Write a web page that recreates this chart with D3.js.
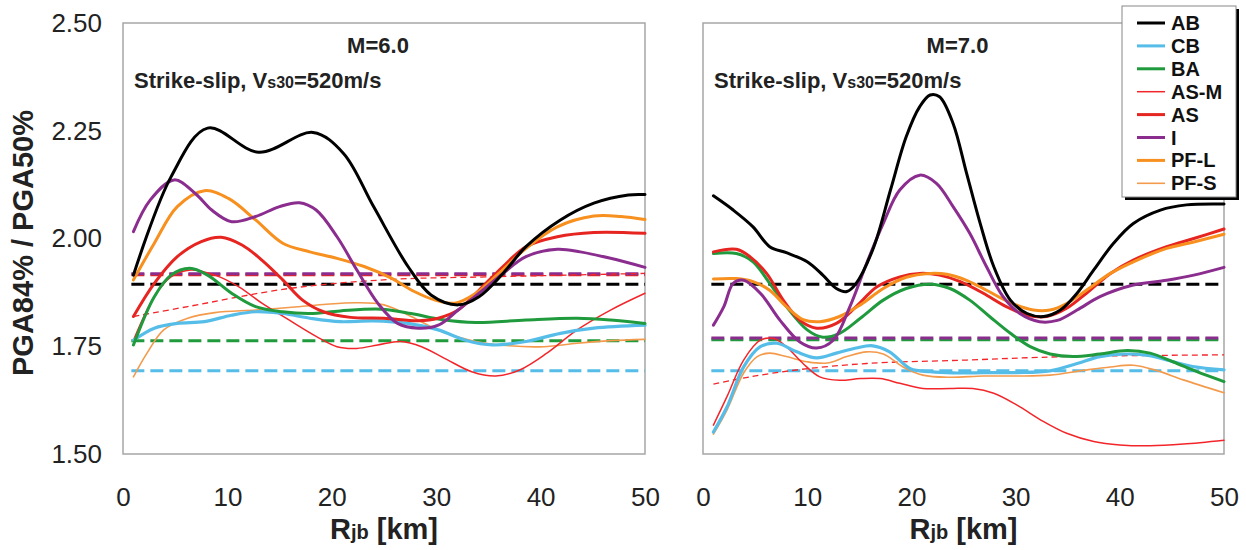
<!DOCTYPE html>
<html><head><meta charset="utf-8">
<script src="https://cdn.jsdelivr.net/npm/d3@7/dist/d3.min.js"></script>
<style>body{margin:0;background:#fff;}svg{display:block;font-family:"Liberation Sans",Arial,sans-serif;}</style>
</head><body><svg id="c" width="1246" height="550"></svg>
<script>
// ---------- data ----------
const xTicks = [0, 10, 20, 30, 40, 50];
const yTicks = [1.50, 1.75, 2.00, 2.25, 2.50];
const seriesNames = ["AB", "CB", "BA", "AS-M", "AS", "I", "PF-L", "PF-S"];
const panelTitles = ["M=6.0", "M=7.0"];

// M = 6.0 (solid curves: [Rjb, ratio])
const m6_AB  = [[1,1.915],[4.6,2.143],[8.1,2.256],[13,2.200],[18.2,2.246],[21.1,2.198],[24,2.074],[27.3,1.935],[29.5,1.869],[32.1,1.846],[34.1,1.865],[36.4,1.919],[38.6,1.981],[41.9,2.043],[45.1,2.082],[48.4,2.101],[50,2.102]];
const m6_CB  = [[1,1.764],[3,1.792],[5.2,1.803],[7.8,1.807],[10.4,1.822],[12.7,1.830],[15.3,1.826],[17.9,1.815],[20.8,1.807],[24,1.809],[27.3,1.803],[30.2,1.788],[32.8,1.764],[35.4,1.753],[38.6,1.761],[41.9,1.780],[45.1,1.792],[50,1.799]];
const m6_BA  = [[1,1.753],[3,1.865],[4.6,1.915],[6.4,1.931],[8.1,1.915],[10.4,1.873],[12.7,1.842],[15.3,1.830],[17.9,1.826],[20.8,1.832],[24.7,1.836],[27.6,1.826],[30.5,1.812],[33.8,1.805],[38.6,1.811],[43.5,1.815],[46.7,1.811],[50,1.803]];
const m6_ASM = [[1,1.764],[3,1.865],[4.6,1.911],[6.5,1.927],[8.8,1.915],[11.1,1.888],[13.3,1.850],[15.9,1.811],[18.5,1.773],[20.5,1.749],[22.4,1.745],[24.4,1.753],[26.6,1.761],[28.6,1.749],[30.8,1.722],[33.4,1.691],[35.7,1.681],[38,1.695],[40.6,1.734],[43.5,1.788],[46.7,1.834],[50,1.873]];
const m6_AS  = [[1,1.819],[3,1.896],[5.2,1.958],[7.5,1.993],[9.4,2.003],[11.4,1.985],[13.3,1.950],[15.3,1.904],[17.2,1.857],[19.2,1.830],[21.8,1.817],[25,1.815],[28.3,1.809],[30.2,1.815],[32.1,1.834],[34.1,1.880],[36.4,1.935],[38.6,1.981],[41.6,2.004],[45.1,2.014],[50,2.012]];
const m6_I   = [[1,2.016],[2.6,2.089],[4.9,2.136],[6.9,2.105],[8.5,2.066],[10.4,2.039],[12.7,2.051],[15,2.074],[16.9,2.083],[18.5,2.066],[20.5,2.004],[22.4,1.927],[24.4,1.850],[26.3,1.803],[28.3,1.792],[30.2,1.799],[32.1,1.834],[34.1,1.873],[36.4,1.919],[38.6,1.958],[41.6,1.975],[43.8,1.969],[46.7,1.954],[50,1.933]];
const m6_PFL = [[1,1.904],[3,1.989],[5.2,2.074],[7.8,2.111],[10.1,2.093],[12.7,2.043],[15.3,1.989],[17.9,1.969],[20.5,1.954],[23.1,1.935],[25.7,1.908],[27.9,1.877],[29.9,1.857],[31.8,1.850],[33.8,1.873],[36,1.919],[38.6,1.977],[41.6,2.027],[45.1,2.052],[47.7,2.051],[50,2.044]];
const m6_PFS = [[1,1.679],[2.3,1.734],[3.9,1.788],[6.2,1.815],[8.8,1.828],[12.7,1.834],[15.9,1.840],[19.2,1.847],[22.4,1.851],[25,1.846],[27.6,1.819],[30.5,1.784],[33.8,1.761],[37,1.751],[40.3,1.749],[43.5,1.757],[46.7,1.763],[50,1.766]];
// M = 6.0 dashed (model sigma) levels
const m6_dashLevels = {"AB":1.894, "CB":1.693, "BA":1.763, "AS":1.916, "I":1.918};
const m6_ASM_dash = [[1,1.819],[6.2,1.842],[15.9,1.884],[25.7,1.905],[35,1.911],[50,1.919]];

// M = 7.0
const m7_AB  = [[1,2.099],[2.9,2.066],[4.8,2.027],[6.4,1.981],[8,1.967],[10,1.946],[11.5,1.915],[12.8,1.884],[13.8,1.877],[14.7,1.896],[16.4,1.981],[18,2.113],[19.5,2.236],[20.8,2.306],[21.8,2.333],[22.7,2.329],[24,2.267],[25.3,2.151],[26.6,2.035],[27.9,1.935],[29.5,1.857],[31.1,1.826],[32.7,1.819],[34.3,1.834],[35.9,1.873],[37.5,1.927],[39.4,1.989],[41.3,2.035],[43.9,2.066],[46.4,2.078],[50,2.080]];
const m7_CB  = [[1,1.551],[2.3,1.609],[3.9,1.702],[5.5,1.749],[7.1,1.757],[9,1.737],[10.9,1.723],[12.8,1.734],[14.7,1.746],[16.3,1.751],[17.9,1.737],[19.9,1.698],[21.8,1.691],[24,1.688],[26.9,1.689],[30.1,1.689],[33.3,1.693],[35.9,1.710],[38.1,1.726],[40.7,1.732],[42.9,1.728],[44.5,1.718],[47,1.703],[50,1.695]];
const m7_BA  = [[1,1.965],[3.2,1.965],[4.8,1.946],[6.4,1.896],[8,1.842],[10,1.788],[11.5,1.771],[13.1,1.780],[15.1,1.815],[17.3,1.857],[19.5,1.884],[21.8,1.894],[23.7,1.884],[25.6,1.857],[27.5,1.819],[29.5,1.780],[31.4,1.749],[33.3,1.732],[35.5,1.726],[38.1,1.732],[40.7,1.740],[42.9,1.734],[45.1,1.714],[47.4,1.691],[50,1.668]];
const m7_ASM = [[1,1.567],[2.3,1.633],[3.9,1.718],[5.5,1.764],[6.8,1.768],[8,1.749],[9.6,1.710],[11.2,1.679],[13.1,1.671],[15.1,1.675],[17,1.675],[18.9,1.664],[21.1,1.652],[23.7,1.652],[25.9,1.652],[27.9,1.641],[30.1,1.614],[32.7,1.575],[34.9,1.548],[37.5,1.529],[40,1.521],[42.9,1.519],[46.1,1.523],[50,1.532]];
const m7_AS  = [[1,1.969],[3.2,1.975],[4.5,1.958],[6.1,1.919],[7.7,1.857],[9.3,1.810],[10.9,1.792],[12.8,1.803],[14.7,1.842],[16.7,1.888],[18.9,1.911],[20.8,1.919],[22.7,1.915],[24.7,1.900],[26.9,1.873],[29.1,1.842],[31.1,1.822],[33,1.819],[34.9,1.838],[36.8,1.873],[39.1,1.919],[41.3,1.950],[44.5,1.981],[47.1,2.000],[50,2.022]];
const m7_I   = [[1,1.799],[2,1.842],[2.9,1.896],[3.9,1.903],[5.5,1.873],[7.4,1.810],[9.3,1.760],[10.9,1.746],[12.5,1.764],[14.1,1.842],[15.7,1.942],[17.3,2.035],[18.9,2.113],[20.8,2.147],[22.4,2.128],[24,2.074],[25.6,2.012],[27.2,1.935],[28.8,1.865],[30.4,1.826],[32.3,1.807],[34,1.810],[35.9,1.834],[38.1,1.865],[41.3,1.892],[44.5,1.903],[47.1,1.915],[50,1.933]];
const m7_PFL = [[1,1.906],[3.2,1.907],[4.8,1.900],[6.4,1.880],[8,1.842],[9.6,1.812],[11.2,1.807],[13.1,1.819],[15.1,1.846],[17.3,1.884],[19.5,1.910],[21.8,1.919],[23.4,1.917],[25.3,1.903],[27.2,1.880],[29.5,1.851],[31.7,1.834],[33.3,1.834],[34.9,1.849],[36.8,1.880],[39.1,1.919],[41.3,1.946],[44.5,1.977],[47.1,1.992],[50,2.010]];
const m7_PFS = [[1,1.546],[2.3,1.602],[3.9,1.688],[5.2,1.726],[6.4,1.734],[8,1.726],[10,1.714],[11.9,1.711],[13.8,1.726],[15.7,1.737],[17.3,1.732],[19.2,1.702],[21.1,1.683],[23.7,1.678],[26.9,1.681],[30.1,1.681],[33.3,1.683],[36.5,1.694],[39.1,1.702],[41.3,1.706],[43.5,1.694],[46.1,1.672],[50,1.642]];
const m7_dashLevels = {"AB":1.894, "CB":1.693, "BA":1.765, "I":1.769};
const m7_ASM_dash = [[1,1.662],[4.5,1.679],[9.3,1.696],[15.7,1.710],[25.3,1.718],[34.9,1.726],[50,1.730]];

// ---------- styles ----------
const colors = {"AB":"#000000","CB":"#55bde8","BA":"#1f9a3c","AS-M":"#f2262a","AS":"#e62420","I":"#8b2d8e","PF-L":"#f7901e","PF-S":"#f39a4c"};
const widths = {"AB":3,"CB":3.2,"BA":3,"AS-M":1.5,"AS":3,"I":3,"PF-L":3,"PF-S":1.6};

const panels = [
  {title: panelTitles[0], x0: 123, x1: 645, showY: true,
   solid: {"AB":m6_AB,"CB":m6_CB,"BA":m6_BA,"AS-M":m6_ASM,"AS":m6_AS,"I":m6_I,"PF-L":m6_PFL,"PF-S":m6_PFS},
   dash: m6_dashLevels, asmDash: m6_ASM_dash},
  {title: panelTitles[1], x0: 703, x1: 1224, showY: false,
   solid: {"AB":m7_AB,"CB":m7_CB,"BA":m7_BA,"AS-M":m7_ASM,"AS":m7_AS,"I":m7_I,"PF-L":m7_PFL,"PF-S":m7_PFS},
   dash: m7_dashLevels, asmDash: m7_ASM_dash}
];
const yTop = 23, yBot = 454;
const svg = d3.select("#c");
const drawOrder = ["PF-S","AS-M","CB","BA","AS","PF-L","I","AB"];
const FF = '"Liberation Sans",Arial,sans-serif';

panels.forEach(p => {
  const x = d3.scaleLinear().domain([0,50]).range([p.x0, p.x1]);
  const y = d3.scaleLinear().domain([1.5,2.5]).range([yBot, yTop]);
  const g = svg.append("g");
  const line = d3.line().x(d => x(d[0])).y(d => y(d[1])).curve(d3.curveCatmullRom.alpha(0.5));

  g.append("rect").attr("x", p.x0).attr("y", yTop).attr("width", p.x1 - p.x0).attr("height", yBot - yTop)
    .attr("fill", "none").attr("stroke", "#a6a6a6").attr("stroke-width", 1.5);

  // dashed reference levels
  const dashOrder = ["CB","BA","AB","AS","I"];
  dashOrder.forEach(k => {
    if (p.dash[k] === undefined) return;
    g.append("path").attr("d", line([[0.8, p.dash[k]], [50, p.dash[k]]]))
      .attr("fill","none").attr("stroke", colors[k]).attr("stroke-width", 3)
      .attr("stroke-dasharray", "13,6");
  });
  g.append("path").attr("d", line(p.asmDash)).attr("fill","none")
    .attr("stroke", colors["AS-M"]).attr("stroke-width", 1.3).attr("stroke-dasharray", "6,4");

  drawOrder.forEach(k => {
    g.append("path").attr("d", line(p.solid[k])).attr("fill","none")
      .attr("stroke", colors[k]).attr("stroke-width", widths[k])
      .attr("stroke-linejoin","round").attr("stroke-linecap","round");
  });

  // x axis
  const xa = g.append("g").attr("transform", `translate(0,${yBot})`)
    .call(d3.axisBottom(x).tickValues(xTicks).tickSize(0).tickPadding(0).tickFormat(d3.format("d")));
  xa.select(".domain").remove();
  xa.selectAll("text").attr("y", 52).attr("dy", null).attr("font-size", 26).attr("fill", "#222")
    .attr("font-family", FF);

  if (p.showY) {
    const ya = g.append("g").attr("transform", `translate(${p.x0},0)`)
      .call(d3.axisLeft(y).tickValues(yTicks).tickSize(0).tickPadding(21).tickFormat(d3.format(".2f")));
    ya.select(".domain").remove();
    ya.selectAll("text").attr("font-size", 26).attr("fill", "#222").attr("font-family", FF);
  }

  // titles
  const cx = (p.x0 + p.x1) / 2;
  g.append("text").attr("x", cx - 6).attr("y", 53).attr("text-anchor","middle")
    .attr("font-size", 22).attr("font-weight","bold").attr("fill","#222").text(p.title);
  const st = g.append("text").attr("x", p.x0 + 11).attr("y", 88)
    .attr("font-size", 22).attr("font-weight","bold").attr("fill","#222");
  st.append("tspan").text("Strike-slip, V");
  st.append("tspan").attr("font-size", 16).text("s30");
  st.append("tspan").text("=520m/s");

  // x axis title
  const xt = g.append("text").attr("x", cx).attr("y", 539).attr("text-anchor","middle")
    .attr("font-size", 29).attr("font-weight","bold").attr("fill","#222");
  xt.append("tspan").text("R");
  xt.append("tspan").attr("font-size", 20).text("jb");
  xt.append("tspan").text(" [km]");
});

// y axis title
svg.append("text").attr("transform", "translate(33,243) rotate(-90)").attr("text-anchor","middle")
  .attr("font-size", 29).attr("font-weight","bold").attr("fill","#222").text("PGA84% / PGA50%");

// legend
const lg = svg.append("g");
lg.append("rect").attr("x", 1125).attr("y", 9).attr("width", 114).attr("height", 191).attr("fill", "#000");
lg.append("rect").attr("x", 1122).attr("y", 6).attr("width", 114).attr("height", 191)
  .attr("fill", "#fff").attr("stroke", "#888").attr("stroke-width", 1);
seriesNames.forEach((k, i) => {
  const yy = 23 + i * 22.9;
  lg.append("line").attr("x1", 1137).attr("x2", 1165).attr("y1", yy).attr("y2", yy)
    .attr("stroke", colors[k]).attr("stroke-width", widths[k] === 3.2 ? 3 : widths[k]);
  lg.append("text").attr("x", 1171).attr("y", yy + 7).attr("font-size", 20).attr("font-weight","bold")
    .attr("fill","#111").text(k);
});
</script></body></html>
